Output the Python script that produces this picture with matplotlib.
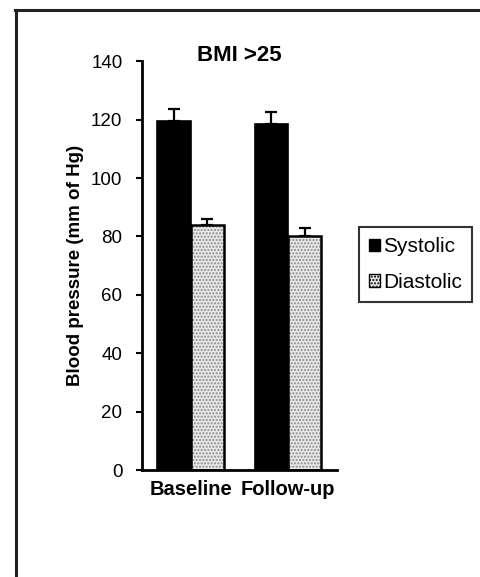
import numpy as np
import matplotlib
matplotlib.use('Agg')
import matplotlib.pyplot as plt
from matplotlib.lines import Line2D
from matplotlib.patches import Patch

plt.rcParams['font.family'] = ['Liberation Sans', 'DejaVu Sans']

# Data
groups = ['Baseline', 'Follow-up']
systolic = [119.5, 118.5]
systolic_err = [4.0, 4.0]
diastolic = [84.0, 80.0]
diastolic_err = [2.0, 3.0]
yticks = [0, 20, 40, 60, 80, 100, 120, 140]

fig = plt.figure(figsize=(4.81, 5.77), dpi=100)
ax = fig.add_axes([0.295, 0.185, 0.405, 0.709])

x = np.arange(len(groups))
w = 0.34

# Systolic bars: solid black
ax.bar(x - w / 2, systolic, w, color='black', edgecolor='black', linewidth=1.2, zorder=2)
ax.errorbar(x - w / 2, systolic, yerr=[np.zeros(2), systolic_err], fmt='none',
            ecolor='black', elinewidth=1.6, capsize=4, capthick=1.6, zorder=1)

# Diastolic bars: light dotted fill with black outline
ax.bar(x + w / 2, diastolic, w, color='#e8e8e8', edgecolor='#8a8a8a', hatch='.....',
       linewidth=0, zorder=2)
ax.bar(x + w / 2, diastolic, w, fill=False, edgecolor='black', linewidth=1.8, zorder=3)
ax.errorbar(x + w / 2, diastolic, yerr=[np.zeros(2), diastolic_err], fmt='none',
            ecolor='black', elinewidth=1.6, capsize=4, capthick=1.6, zorder=1)

ax.set_xlim(-0.5, 1.5)
ax.set_ylim(0, 140)
ax.set_yticks(yticks)
ax.set_xticks(x)
ax.set_xticklabels(groups, fontsize=14.5, fontweight='bold')
ax.tick_params(axis='x', length=0, pad=7)
ax.tick_params(axis='y', direction='out', length=4, width=1.5, labelsize=13.5, pad=10)
for side in ['top', 'right']:
    ax.spines[side].set_visible(False)
for side in ['left', 'bottom']:
    ax.spines[side].set_linewidth(2)

ax.set_ylabel('Blood pressure (mm of Hg)', fontsize=13.5, fontweight='bold', labelpad=5)
ax.set_title('BMI >25', fontsize=16, fontweight='bold', pad=0, y=1.0)

handles = [Patch(facecolor='black', edgecolor='black', label='Systolic'),
           Patch(facecolor='#e8e8e8', edgecolor='black', hatch='.....', label='Diastolic')]
leg = fig.legend(handles=handles, loc='upper left', bbox_to_anchor=(0.746, 0.607),
                 borderaxespad=0, fontsize=15, frameon=True, fancybox=False,
                 handlelength=0.5, handleheight=0.55, handletextpad=0.15,
                 borderpad=0.5, labelspacing=0.8)
leg.get_frame().set_edgecolor('black')
leg.get_frame().set_linewidth(1.5)

# Outer frame of the original image (top and left edges only)
fig.add_artist(Line2D([15 / 481, 1.0], [1 - 10 / 577, 1 - 10 / 577],
                      transform=fig.transFigure, color='#222222', linewidth=2.2))
fig.add_artist(Line2D([16 / 481, 16 / 481], [0.0, 1 - 10 / 577],
                      transform=fig.transFigure, color='#222222', linewidth=2.2))

fig.savefig('out.png', dpi=100)
